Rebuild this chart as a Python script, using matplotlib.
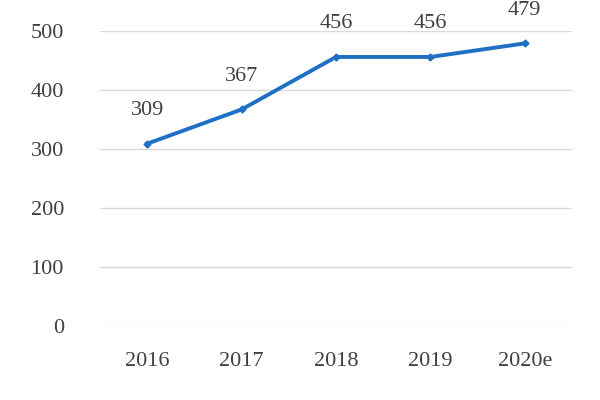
import matplotlib
matplotlib.use("Agg")
import matplotlib.pyplot as plt

years = ["2016", "2017", "2018", "2019", "2020e"]
values = [309, 367, 456, 456, 479]

plt.rcParams['font.family'] = ['Liberation Serif', 'DejaVu Serif']
fig = plt.figure(figsize=(6, 4), dpi=100)
ax = fig.add_axes([100/600, 1-326/400, 472/600, 295/400])
x = range(len(years))
ax.plot(x, values, color='#1f6fc5', lw=2.8, marker='D', ms=3.5, zorder=3)
for xi, v in zip(x, values):
    ax.annotate(str(v), (xi, v), xytext=(0, 17), textcoords='offset points',
                ha='center', va='bottom', fontsize=16, color='#404040', annotation_clip=False)
ax.set_xlim(-0.5, len(years) - 0.5)
ax.set_ylim(0, 500)
ax.set_yticks(range(0, 501, 100))
ax.set_xticks(list(x))
ax.set_xticklabels(years)
ax.grid(axis='y', color='#d9d9d9', lw=1)
ax.set_axisbelow(True)
for s in ax.spines.values():
    s.set_visible(False)
ax.tick_params(length=0, labelsize=16, labelcolor='#404040')
ax.tick_params(axis='x', pad=19)
ax.tick_params(axis='y', pad=26)
fig.savefig("out.png")
